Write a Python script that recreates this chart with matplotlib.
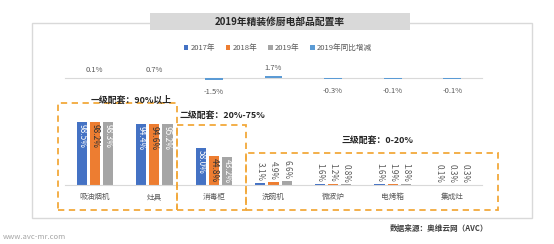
import matplotlib
matplotlib.use('Agg')
import matplotlib.pyplot as plt
from matplotlib.patches import Rectangle
import numpy as np

plt.rcParams['font.family'] = ['Noto Sans CJK SC', 'DejaVu Sans']

categories = ['吸油烟机', '灶具', '消毒柜', '洗碗机', '微波炉', '电烤箱', '集成灶']
rate_2017 = [98.5, 94.4, 58.0, 3.1, 1.6, 1.6, 0.1]
rate_2018 = [98.2, 94.6, 44.8, 4.9, 1.2, 1.9, 0.3]
rate_2019 = [98.3, 95.2, 43.2, 6.6, 0.8, 1.8, 0.3]
yoy_change = [0.1, 0.7, -1.5, 1.7, -0.3, -0.1, -0.1]
series_names = ['2017年', '2018年', '2019年', '2019年同比增减']

W, H = 554, 244
fig = plt.figure(figsize=(W / 100, H / 100), dpi=100)

def fx(px):
    return px / W

def fy(py):
    return 1 - py / H

def ax_rect(x0, y0, x1, y1):
    return [fx(x0), fy(y1), fx(x1) - fx(x0), fy(y0) - fy(y1)]

c_blue = '#4472C4'
c_orange = '#ED7D31'
c_gray = '#A5A5A5'
c_chg = '#5B9BD5'
c_box = '#F2A93B'
c_text = '#595959'

# outer frame + title box
fig.patches.append(Rectangle((fx(32), fy(218)), fx(532) - fx(32), fy(23) - fy(218),
                             transform=fig.transFigure, fill=False, ec='#D9D9D9', lw=1))
fig.patches.append(Rectangle((fx(150), fy(30)), fx(410) - fx(150), fy(13) - fy(30),
                             transform=fig.transFigure, fc='#D9D9D9', ec='none'))
fig.text(fx(280), fy(21.5), '2019年精装修厨电部品配置率', ha='center', va='center',
         fontsize=7, fontweight='bold', color='#262626')

x = np.arange(len(categories))

# top: yoy change
ax1 = fig.add_axes(ax_rect(65, 58, 482, 100))
chg_bars = ax1.bar(x, yoy_change, width=0.3, color=c_chg)
ax1.set_xlim(-0.5, len(categories) - 0.5)
ax1.set_ylim(-16.2, 15.4)
for s in ['top', 'right', 'left']:
    ax1.spines[s].set_visible(False)
ax1.spines['bottom'].set_position(('data', 0))
ax1.spines['bottom'].set_color('#D9D9D9')
ax1.spines['bottom'].set_zorder(0)
ax1.set_xticks([])
ax1.set_yticks([])
ax1.patch.set_alpha(0)
for xi, v in zip(x, yoy_change):
    if v >= 0:
        ax1.annotate(f'{v:.1f}%', (xi, v), xytext=(0, 4), textcoords='offset pixels',
                     ha='center', va='bottom', fontsize=5.5, color=c_text)
    else:
        ax1.annotate(f'{v:.1f}%', (xi, v), xytext=(0, -8), textcoords='offset pixels',
                     ha='center', va='top', fontsize=5.5, color=c_text)

# bottom: configuration rates
ax2 = fig.add_axes(ax_rect(65, 115, 482, 185))
w = 0.17
off = 0.22
b17 = ax2.bar(x - off, rate_2017, w, color=c_blue)
b18 = ax2.bar(x, rate_2018, w, color=c_orange)
b19 = ax2.bar(x + off, rate_2019, w, color=c_gray)
ax2.set_xlim(-0.5, len(categories) - 0.5)
ax2.set_ylim(0, 109)
for s in ['top', 'right', 'left']:
    ax2.spines[s].set_visible(False)
ax2.spines['bottom'].set_color('#D9D9D9')
ax2.set_yticks([])
ax2.set_xticks(x)
ax2.set_xticklabels(categories, fontsize=5.5, color=c_text)
ax2.tick_params(axis='x', length=0, pad=6)
ax2.patch.set_alpha(0)

inside_colors = ['white', '#333333', 'white']
for k, (bars, vals) in enumerate([(b17, rate_2017), (b18, rate_2018), (b19, rate_2019)]):
    for bar, v in zip(bars, vals):
        cx = bar.get_x() + bar.get_width() / 2
        if v > 30:
            ax2.annotate(f'{v:.1f}%', (cx, v), xytext=(0, -2), textcoords='offset pixels',
                         ha='center', va='top', rotation=-90, fontsize=6,
                         color=inside_colors[k])
        else:
            ax2.annotate(f'{v:.1f}%', (cx, v), xytext=(0, 2), textcoords='offset pixels',
                         ha='center', va='bottom', rotation=-90, fontsize=5.8, color=c_text)

# dashed group boxes
boxes = [(58, 103, 177, 210), (177, 125, 246, 210), (246, 153, 498, 210)]
for x0, y0, x1, y1 in boxes:
    fig.patches.append(Rectangle((fx(x0), fy(y1)), fx(x1) - fx(x0), fy(y0) - fy(y1),
                                 transform=fig.transFigure, fill=False, ec=c_box,
                                 lw=1.3, ls=(0, (3.5, 2.5))))
fig.text(fx(131), fy(100), '一级配套：90%以上', ha='center', va='center',
         fontsize=6.4, fontweight='bold', color='#262626')
fig.text(fx(180), fy(115), '二级配套：20%-75%', ha='left', va='center',
         fontsize=6.4, fontweight='bold', color='#262626')
fig.text(fx(377), fy(140), '三级配套：0-20%', ha='center', va='center',
         fontsize=6.4, fontweight='bold', color='#262626')

# legend
fig.legend([b17, b18, b19, chg_bars], series_names, loc='center', ncol=4,
           bbox_to_anchor=(fx(278), fy(48)), frameon=False, fontsize=5.5,
           labelcolor=c_text, handlelength=0.6, handleheight=0.6,
           handletextpad=0.3, columnspacing=1.4)

# footer
fig.text(fx(439), fy(228), '数据来源：奥维云网（AVC）', ha='center', va='center',
         fontsize=5.5, fontweight='bold', color='#404040')
fig.text(fx(3), fy(237), 'www.avc-mr.com', ha='left', va='center',
         fontsize=5.5, color='#A6A6A6')

fig.savefig('out.png', dpi=100)
